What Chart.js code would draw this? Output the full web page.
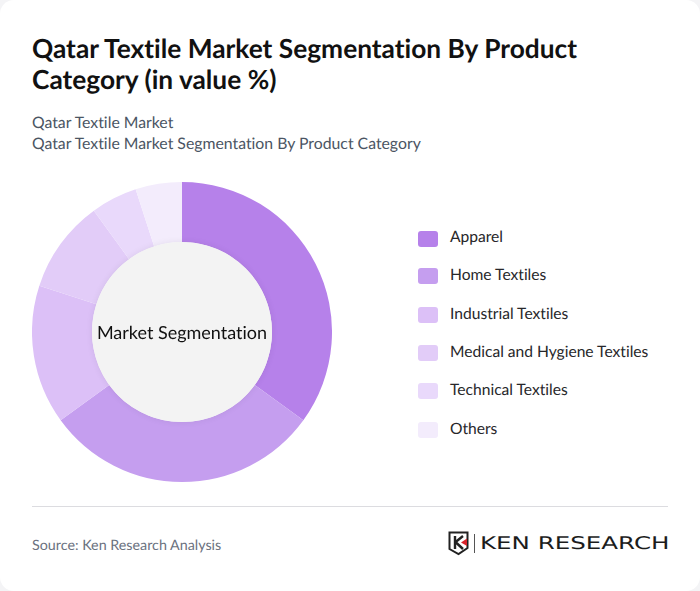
<!DOCTYPE html>
<html><head><meta charset="utf-8">
<script src="https://cdn.jsdelivr.net/npm/chart.js@4"></script>
<style>
html,body{margin:0;padding:0;width:700px;height:591px;overflow:hidden;background:#f4f4f6;font-family:Lato,sans-serif;text-rendering:geometricPrecision;font-variant-ligatures:none}
#card{position:absolute;left:0;top:0;width:700px;height:591px;background:#fff;border-radius:14px}
#card div{position:absolute;white-space:nowrap}
#title{left:32px;top:33px;font-size:26.3px;line-height:31px;font-weight:700;color:#111}
.sub{left:32px;font-size:15.8px;line-height:20px;color:#4b5563}
#wrap{left:32px;top:182px;width:300px;height:300px}
#center{left:32px;top:320px;width:300px;text-align:center;font-size:18px;line-height:24px;color:#111}
.sw{left:418px;width:20px;height:16px;border-radius:3px}
.lg{left:450px;font-size:15.6px;line-height:20px;color:#27272a}
#rule{left:32px;top:506px;width:636px;height:1px;background:#dcdce0}
#src{left:32px;top:537px;font-size:14.3px;line-height:18px;color:#6b7280}
#bar{left:474px;top:534px;width:1px;height:19px;background:#555}
#ken{left:480px;top:532px;font-family:"DejaVu Sans",sans-serif;font-size:17.4px;line-height:24px;color:#1c1c1c;transform-origin:left center;transform:scaleX(1.41)}
</style></head>
<body><div id="card">
<div id="title">Qatar Textile Market Segmentation By Product<br>Category (in value %)</div>
<div class="sub" style="top:113px">Qatar Textile Market</div>
<div class="sub" style="top:134px">Qatar Textile Market Segmentation By Product Category</div>
<div id="wrap"><canvas id="c" width="300" height="300"></canvas></div>
<div id="center">Market Segmentation</div>
<div id="rule"></div>
<div id="src">Source: Ken Research Analysis</div>
<svg style="position:absolute;left:448px;top:531px" width="24" height="25" viewBox="0 0 24 25">
<path d="M1.5 1.5H19.5V17L10.5 23L1.5 18Z" fill="none" stroke="#222" stroke-width="2"/>
<path d="M7 5V18M7 11.5L15 5M8 11.5L15 18" fill="none" stroke="#222" stroke-width="2.4"/>
<path d="M19 7.5V15L13 11.5Z" fill="#d8232a"/>
</svg>
<div id="bar"></div>
<div id="ken">KEN RESEARCH</div>
</div>
<script>
const categories=["Apparel","Home Textiles","Industrial Textiles","Medical and Hygiene Textiles","Technical Textiles","Others"];
const values=[35,30,15,10,5,5];
const colors=["#b681ea","#c59eef","#dcc0f7","#e2ccf8","#e9d9fb","#f3ecfc"];
const swatchTops=[231,268,307,345,383,422];
const labelTops=[227,265,304,342,380,419];
const card=document.getElementById('card');
categories.forEach((name,i)=>{
  const s=document.createElement('div');s.className='sw';s.style.top=swatchTops[i]+'px';s.style.background=colors[i];card.appendChild(s);
  const l=document.createElement('div');l.className='lg';l.style.top=labelTops[i]+'px';l.textContent=name;card.appendChild(l);
});
const hole={id:'hole',afterDatasetsDraw(ch){
  const m=ch.getDatasetMeta(0).data[0],x=ch.ctx;
  x.save();x.shadowColor='rgba(0,0,0,0.07)';x.shadowBlur=7;x.fillStyle='#f3f3f3';
  x.beginPath();x.arc(m.x,m.y,m.innerRadius,0,Math.PI*2);x.fill();x.restore();
}};
new Chart(document.getElementById('c'),{type:'doughnut',
  data:{labels:categories,datasets:[{data:values,backgroundColor:colors,borderWidth:0}]},
  options:{responsive:false,animation:false,cutout:'60%',layout:{padding:0},
    plugins:{legend:{display:false},tooltip:{enabled:false}}},
  plugins:[hole]});
</script>
</body></html>
